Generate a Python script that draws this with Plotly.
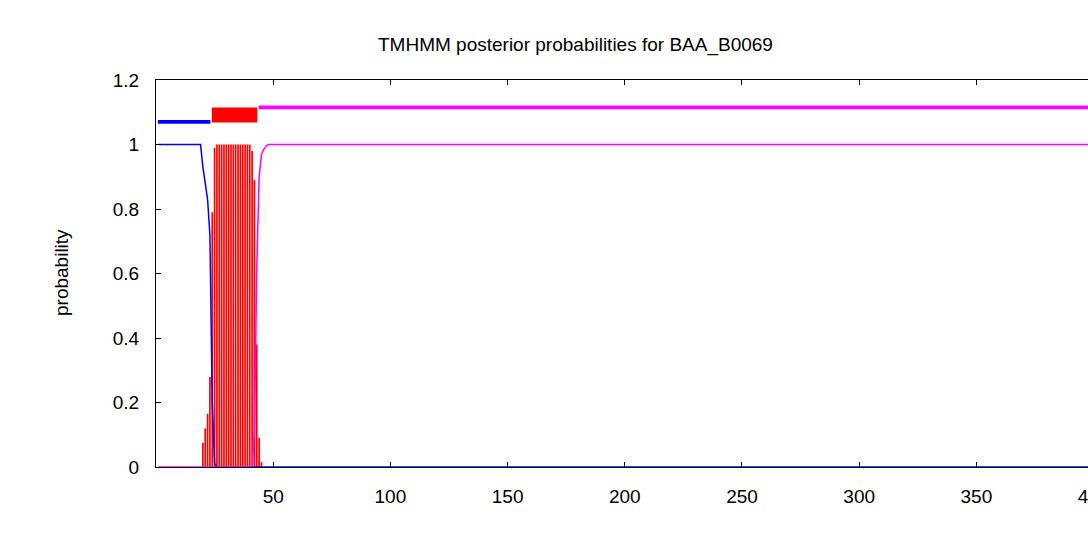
import plotly.graph_objects as go

# ---- data ----
tm_pos = [20, 21, 22, 23, 24, 25, 26, 27, 28, 29, 30, 31, 32, 33, 34, 35, 36, 37, 38, 39, 40,
          41, 42, 43, 44, 45]
tm_prob = [0.075, 0.12, 0.165, 0.28, 0.79, 0.99, 1.0, 1.0, 1.0, 1.0, 1.0, 1.0, 1.0, 1.0, 1.0,
           1.0, 1.0, 1.0, 1.0, 1.0, 1.0, 0.98, 0.89, 0.38, 0.09, 0.015]

inside_pos = [1, 19, 20, 21, 22, 23, 24, 25, 26, 410]
inside_prob = [1.0, 1.0, 0.93, 0.88, 0.83, 0.72, 0.2, 0.01, 0.0, 0.0]

outside_pos = [1, 41, 42, 43, 44, 45, 46, 47, 48, 410]
outside_prob = [0.0, 0.0, 0.11, 0.62, 0.9, 0.97, 0.985, 0.995, 1.0, 1.0]

topo_label = ["inside", "TMhelix", "outside"]
topo_start = [0.5, 23.5, 43.5]
topo_end = [23.5, 43.5, 410]

x_ticks = [50, 100, 150, 200, 250, 300, 350, 400]
y_ticks = [0, 0.2, 0.4, 0.6, 0.8, 1.0, 1.2]
y_ticktext = ["0", "0.2", "0.4", "0.6", "0.8", "1", "1.2"]

title_text = "TMHMM posterior probabilities for BAA_B0069"
ylabel_text = "probability"

# ---- style ----
topo_style = {
    "inside": dict(color="#0000FF", y0=1.064, y1=1.076),
    "TMhelix": dict(color="#FF0000", y0=1.068, y1=1.115),
    "outside": dict(color="#FF00FF", y0=1.109, y1=1.121),
}
GAP = 0.3
FONT = "Liberation Sans, Arial, sans-serif"

# impulses (vertical lines from 0 to value at each position)
imp_x, imp_y = [], []
for p, v in zip(tm_pos, tm_prob):
    imp_x += [p, p, None]
    imp_y += [0, v, None]

fig = go.Figure()
fig.add_trace(go.Scatter(x=imp_x, y=imp_y, mode="lines",
                         line=dict(color="#FF0000", width=1.7),
                         name="transmembrane", showlegend=False))
fig.add_trace(go.Scatter(x=inside_pos, y=inside_prob, mode="lines",
                         line=dict(color="#0000FF", width=1.5),
                         name="inside", showlegend=False))
fig.add_trace(go.Scatter(x=outside_pos, y=outside_prob, mode="lines",
                         line=dict(color="#FF00FF", width=1.5),
                         name="outside", showlegend=False))

for lab, s, e in zip(topo_label, topo_start, topo_end):
    st = topo_style[lab]
    fig.add_shape(type="rect", xref="x", yref="y",
                  x0=s + GAP, x1=e - GAP, y0=st["y0"], y1=st["y1"],
                  fillcolor=st["color"], line=dict(width=0), layer="above")

fig.add_annotation(text=title_text, xref="paper", yref="paper",
                   x=(575 - 156) / 961, y=(467 - 45) / 387,
                   xanchor="center", yanchor="middle", showarrow=False,
                   font=dict(family=FONT, size=19, color="#000"))
fig.add_annotation(text=ylabel_text, xref="paper", yref="paper",
                   x=(61 - 156) / 961, y=(467 - 273) / 387, textangle=-90,
                   xanchor="center", yanchor="middle", showarrow=False,
                   font=dict(family=FONT, size=19, color="#000"))

fig.update_layout(
    width=1130, height=534,
    margin=dict(l=156, r=13, t=80, b=67),
    paper_bgcolor="white", plot_bgcolor="white",
    showlegend=False,
    font=dict(family=FONT, size=19, color="#000"),
)
fig.update_xaxes(range=[0, 410], tickvals=x_ticks, ticks="inside", ticklen=5,
                 tickcolor="#000", showline=True, linecolor="#000", linewidth=1,
                 mirror="ticks", showgrid=False, zeroline=False,
                 ticklabelstandoff=12)
fig.update_yaxes(range=[0, 1.2], tickvals=y_ticks, ticktext=y_ticktext,
                 ticks="inside", ticklen=5, tickcolor="#000", showline=True,
                 linecolor="#000", linewidth=1, mirror="ticks", showgrid=False,
                 zeroline=False, ticklabelstandoff=12)

fig.write_html("out.html", config={"displayModeBar": False}, post_script=(
    "document.body.style.margin='0';"
    "document.body.style.overflow='hidden';"
    "document.documentElement.style.overflow='hidden';"))
